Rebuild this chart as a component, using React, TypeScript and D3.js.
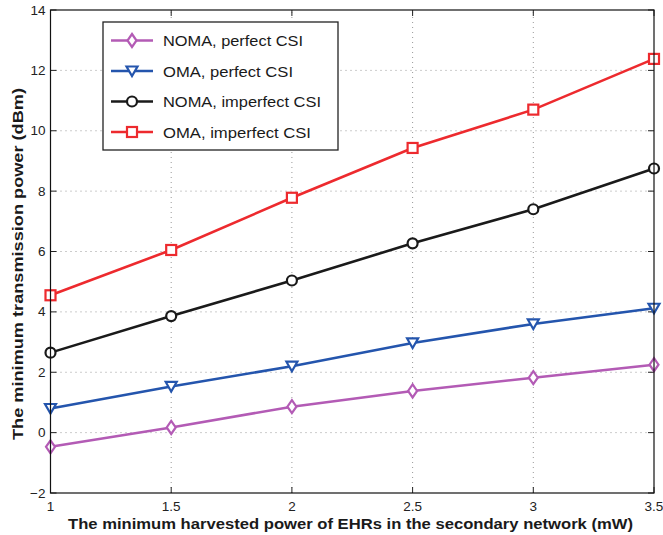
import * as d3 from 'd3';

const xValues = [1, 1.5, 2, 2.5, 3, 3.5];
const nomaPerfect = [-0.47, 0.17, 0.86, 1.38, 1.82, 2.25];
const omaPerfect = [0.8, 1.53, 2.2, 2.97, 3.6, 4.12];
const nomaImperfect = [2.65, 3.86, 5.04, 6.27, 7.4, 8.75];
const omaImperfect = [4.55, 6.05, 7.78, 9.43, 10.7, 12.38];

const xTicks = [1, 1.5, 2, 2.5, 3, 3.5];
const yTicks = [-2, 0, 2, 4, 6, 8, 10, 12, 14];

const seriesNames = ['NOMA, perfect CSI', 'OMA, perfect CSI', 'NOMA, imperfect CSI', 'OMA, imperfect CSI'];
const seriesValues = [nomaPerfect, omaPerfect, nomaImperfect, omaImperfect];
const seriesColors = ['#b35bb5', '#2455ad', '#1a1a1a', '#ed2a2e'];
const seriesMarkers = ['diamond', 'triangle', 'circle', 'square'];

const W = 663;
const H = 535;
const margin = { left: 50.5, right: 9, top: 10, bottom: 42 };

const Marker = ({ type, x, y, color }: { type: string; x: number; y: number; color: string }) => {
  const common = { fill: 'white', stroke: color, strokeWidth: 2.2 };
  if (type === 'diamond') {
    return <path d={`M${x},${y - 6.5}L${x + 4.5},${y}L${x},${y + 6.5}L${x - 4.5},${y}Z`} {...common} />;
  }
  if (type === 'triangle') {
    return <path d={`M${x - 5.5},${y - 4.5}L${x + 5.5},${y - 4.5}L${x},${y + 5}Z`} {...common} />;
  }
  if (type === 'circle') {
    return <circle cx={x} cy={y} r={5} {...common} />;
  }
  return <rect x={x - 5} y={y - 5} width={10} height={10} {...common} />;
};

const App = () => {
  const x = d3.scaleLinear().domain([1, 3.5]).range([margin.left, W - margin.right]);
  const y = d3.scaleLinear().domain([-2, 14]).range([H - margin.bottom, margin.top]);
  const line = d3.line<number>()
    .x((_, i) => x(xValues[i]))
    .y(d => y(d));

  const x0 = x.range()[0];
  const x1 = x.range()[1];
  const y0 = y.range()[0];
  const y1 = y.range()[1];
  const font = 'Arial, "Liberation Sans", Helvetica, sans-serif';

  const legendY = [40.5, 71, 101.5, 132];
  const legendWidths = [140, 130, 158, 148];

  return (
    <svg width={W} height={H} style={{ position: 'absolute', left: 0, top: 0, background: 'white' }} fontFamily={font}>
      {/* grid */}
      {xTicks.slice(1, -1).map(t => (
        <line key={'gx' + t} x1={x(t)} x2={x(t)} y1={y0} y2={y1} stroke="#999" strokeDasharray="1,4" strokeWidth={1} />
      ))}
      {yTicks.slice(1, -1).map(t => (
        <line key={'gy' + t} x1={x0} x2={x1} y1={y(t)} y2={y(t)} stroke="#999" strokeDasharray="1,4" strokeWidth={1} />
      ))}
      {/* ticks */}
      {xTicks.map(t => (
        <g key={'tx' + t}>
          <line x1={x(t)} x2={x(t)} y1={y0} y2={y0 - 6} stroke="#222" />
          <line x1={x(t)} x2={x(t)} y1={y1} y2={y1 + 6} stroke="#222" />
          <text x={x(t)} y={y0 + 18} textAnchor="middle" fontSize={13.5} fill="#222">{t}</text>
        </g>
      ))}
      {yTicks.map(t => (
        <g key={'ty' + t}>
          <line x1={x0} x2={x0 + 6} y1={y(t)} y2={y(t)} stroke="#222" />
          <line x1={x1} x2={x1 - 6} y1={y(t)} y2={y(t)} stroke="#222" />
          <text x={x0 - 5} y={y(t) + 4.5} textAnchor="end" fontSize={13.5} fill="#222">{t < 0 ? '\u2212' + Math.abs(t) : t}</text>
        </g>
      ))}
      {/* series */}
      {seriesValues.map((vals, si) => (
        <g key={'s' + si}>
          <path d={line(vals) || ''} fill="none" stroke={seriesColors[si]} strokeWidth={2.6} />
          {vals.map((v, i) => (
            <Marker key={i} type={seriesMarkers[si]} x={x(xValues[i])} y={y(v)} color={seriesColors[si]} />
          ))}
        </g>
      ))}
      {/* frame */}
      <rect x={x0} y={y1} width={x1 - x0} height={y0 - y1} fill="none" stroke="#111" strokeWidth={1.2} />
      {/* legend */}
      <rect x={103} y={22} width={235} height={128} fill="white" stroke="#222" strokeWidth={1.3} />
      {seriesNames.map((n, i) => (
        <g key={'l' + i}>
          <line x1={111} x2={153} y1={legendY[i]} y2={legendY[i]} stroke={seriesColors[i]} strokeWidth={2.6} />
          <Marker type={seriesMarkers[i]} x={132} y={legendY[i]} color={seriesColors[i]} />
          <text x={163} y={legendY[i] + 5.5} fontSize={15.5} fill="#1a1a1a" textLength={legendWidths[i]} lengthAdjust="spacingAndGlyphs">{n}</text>
        </g>
      ))}
      {/* axis titles */}
      <text x={68} y={529} fontSize={15.5} fontWeight="bold" fill="#1a1a1a" textLength={565} lengthAdjust="spacingAndGlyphs">
        The minimum harvested power of EHRs in the secondary network (mW)
      </text>
      <text transform={`translate(23,440) rotate(-90)`} fontSize={15.5} fontWeight="bold" fill="#1a1a1a" textLength={352} lengthAdjust="spacingAndGlyphs">
        The minimum transmission power (dBm)
      </text>
    </svg>
  );
};

export default App;
